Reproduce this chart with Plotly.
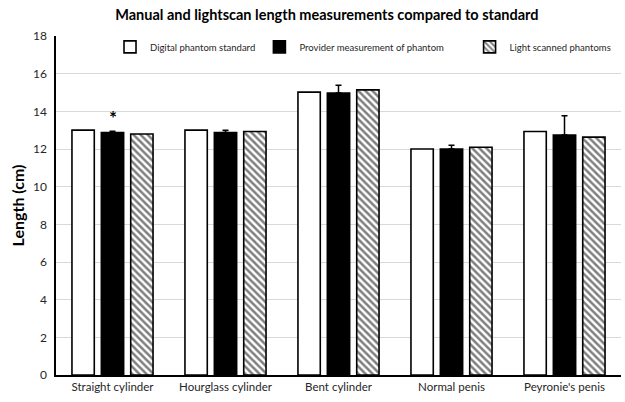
import plotly.graph_objects as go

categories = ["Straight cylinder", "Hourglass cylinder", "Bent cylinder", "Normal penis", "Peyronie's penis"]
series_names = ["Digital phantom standard", "Provider measurement of phantom", "Light scanned phantoms"]
digital_standard = [13.0, 13.0, 15.02, 12.0, 12.93]
provider_measure = [12.88, 12.87, 14.97, 12.0, 12.74]
provider_error = [0.06, 0.13, 0.42, 0.2, 1.03]
light_scanned = [12.8, 12.93, 15.14, 12.09, 12.63]
y_ticks = [0, 2, 4, 6, 8, 10, 12, 14, 16, 18]

FONT = "Lato"
fig = go.Figure()
fig.add_trace(go.Bar(
    x=categories, y=digital_standard, name=series_names[0], legend="legend",
    marker=dict(color="white", line=dict(color="black", width=1.6)),
))
fig.add_trace(go.Bar(
    x=categories, y=provider_measure, name=series_names[1], legend="legend2",
    marker=dict(color="black", line=dict(color="black", width=1.6)),
    error_y=dict(type="data", array=provider_error, arrayminus=[0]*5, symmetric=False,
                 color="black", thickness=1.5, width=3),
))
fig.add_trace(go.Bar(
    x=categories, y=light_scanned, name=series_names[2], legend="legend3",
    marker=dict(color="white", line=dict(color="black", width=1.6),
                pattern=dict(shape="\\", fgcolor="black", bgcolor="white", size=5, solidity=0.5)),
))

fig.add_annotation(x=categories[0], y=12.95, text="<b>*</b>", showarrow=False,
                   yanchor="bottom", font=dict(size=19, color="black", family=FONT))

leg_common = dict(orientation="h", yanchor="middle", xanchor="left", yref="paper",
                  font=dict(size=9.5, color="#262626", family=FONT), itemwidth=30,
                  bgcolor="rgba(0,0,0,0)", borderwidth=0)
fig.update_layout(
    width=625, height=402,
    margin=dict(l=56, r=4, t=36, b=27),
    paper_bgcolor="white", plot_bgcolor="white",
    showlegend=True,
    title=dict(text="<b>Manual and lightscan length measurements compared to standard</b>",
               x=0.523, xanchor="center", y=0.962, yanchor="middle",
               font=dict(size=14.5, color="black", family=FONT)),
    font=dict(family=FONT, color="#262626"),
    barmode="group", bargap=0.22, bargroupgap=0.24,
    legend=dict(x=0.0956, y=0.968, **leg_common),
    legend2=dict(x=0.36, y=0.968, **leg_common),
    legend3=dict(x=0.732, y=0.968, **leg_common),
    xaxis=dict(showline=True, linecolor="black", linewidth=1.5, ticks="", automargin=False,
               tickfont=dict(size=11.5, color="#262626", family=FONT)),
    yaxis=dict(range=[0, 18], tickvals=y_ticks, showline=True, linecolor="black", linewidth=1.5,
               showgrid=True, gridcolor="#d9d9d9", gridwidth=1, zeroline=False, ticks="",
               ticklabelstandoff=5, automargin=False,
               tickfont=dict(size=12, color="#262626", family=FONT),
               title=dict(text="<b>Length (cm)</b>", font=dict(size=16, color="black", family=FONT), standoff=4)),
)
fig.write_html("out.html", config={"displayModeBar": False},
               post_script="document.body.style.margin='0';document.body.style.padding='0';")
